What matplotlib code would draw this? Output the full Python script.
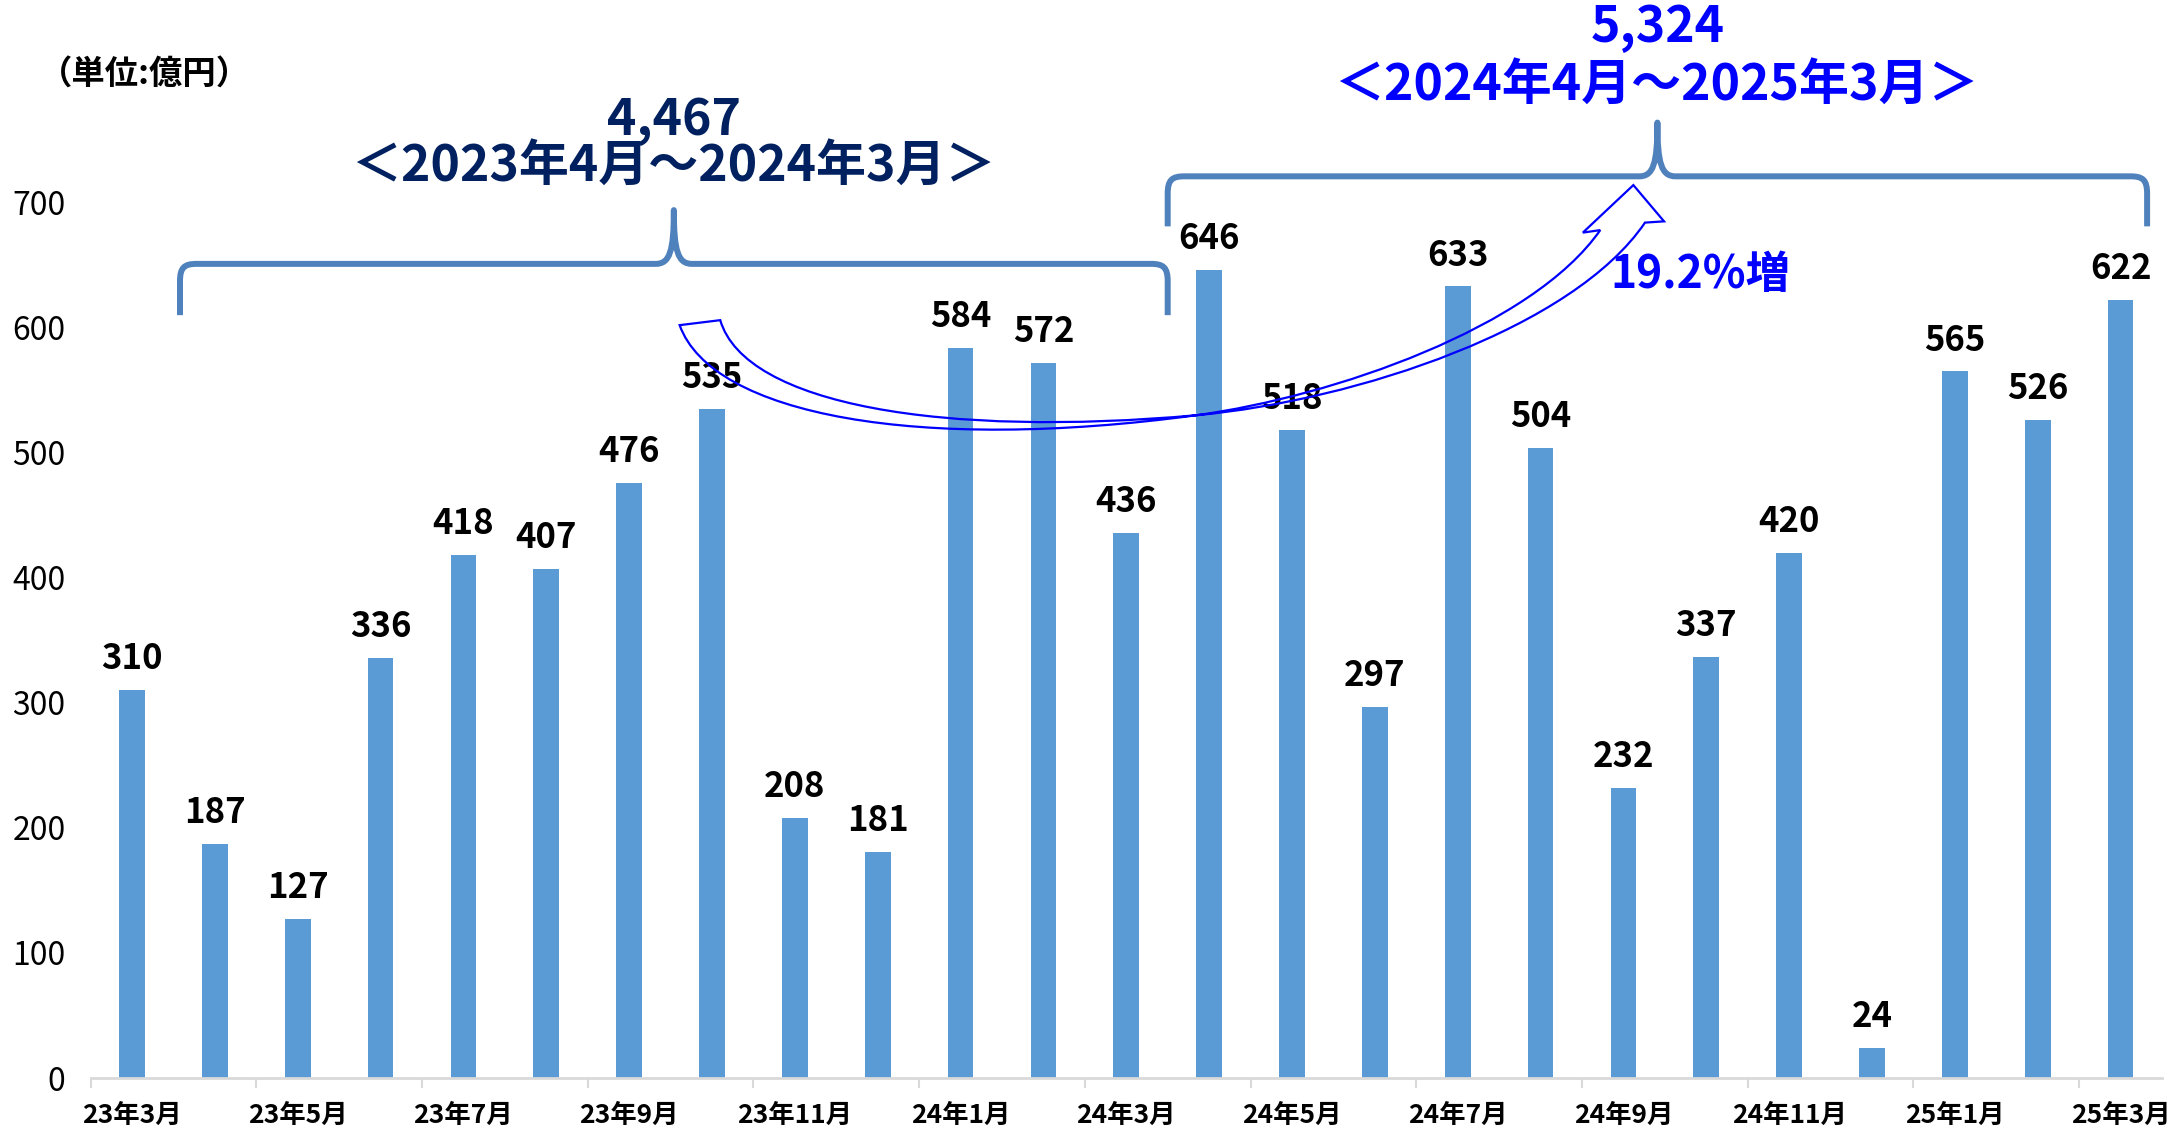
import matplotlib
matplotlib.use("Agg")
import matplotlib.pyplot as plt
from matplotlib.path import Path
from matplotlib.patches import PathPatch
import numpy as np

plt.rcParams['font.family'] = ['Noto Sans CJK JP', 'DejaVu Sans']

months = ['23年3月', '23年4月', '23年5月', '23年6月', '23年7月', '23年8月',
          '23年9月', '23年10月', '23年11月', '23年12月', '24年1月', '24年2月',
          '24年3月', '24年4月', '24年5月', '24年6月', '24年7月', '24年8月',
          '24年9月', '24年10月', '24年11月', '24年12月', '25年1月', '25年2月',
          '25年3月']
values = [310, 187, 127, 336, 418, 407, 476, 535, 208, 181, 584, 572, 436,
          646, 518, 297, 633, 504, 232, 337, 420, 24, 565, 526, 622]

prev_total = '4,467'
prev_period = '＜2023年4月～2024年3月＞'
curr_total = '5,324'
curr_period = '＜2024年4月～2025年3月＞'
growth = '19.2%増'
unit = '（単位:億円）'

bar_color = '#5B9BD5'
brace_color = '#4F81BD'
navy = '#002060'
blue = '#0000FF'

fig = plt.figure(figsize=(21.81, 11.30), dpi=100)
ax = fig.add_axes([0.0415, 0.046, 0.9498, 0.954])

x = np.arange(len(values))
ax.bar(x, values, width=0.31, color=bar_color, zorder=2)

for i, v in zip(x, values):
    ax.annotate(str(v), (i, v), xytext=(0, 15), textcoords='offset points',
                ha='center', va='baseline', fontsize=25, fontweight='bold',
                color='black', zorder=4)

ax.set_xlim(-0.5, len(values) - 0.5)
ax.set_ylim(0, 862)

ax.set_yticks(range(0, 701, 100))
ax.tick_params(axis='y', length=0, pad=18, labelsize=23)

# tick marks on the category boundaries, labels under every other month
ax.set_xticks(np.arange(-0.5, len(values) - 1, 2))
ax.set_xticklabels([])
ax.tick_params(axis='x', which='major', length=7, width=1.5, color='#d9d9d9')
ax.set_xticks(x[::2], minor=True)
ax.set_xticklabels(months[::2], minor=True, fontsize=19, fontweight='bold')
ax.tick_params(axis='x', which='minor', length=0, pad=17)

for s in ['top', 'right', 'left']:
    ax.spines[s].set_visible(False)
ax.spines['bottom'].set_color('#d9d9d9')
ax.spines['bottom'].set_linewidth(2)


def brace(xl, xr, yb, yh, yp):
    xm = (xl + xr) / 2
    r, c = 0.2, 0.22
    verts = [(xl, yb), (xl, yh - 14),
             (xl, yh - 3), (xl + 0.05, yh), (xl + r, yh),
             (xm - c, yh),
             (xm - 0.05, yh), (xm, yh + 10), (xm, yp),
             (xm, yh + 10), (xm + 0.05, yh), (xm + c, yh),
             (xr - r, yh),
             (xr - 0.05, yh), (xr, yh - 3), (xr, yh - 14),
             (xr, yb)]
    codes = [Path.MOVETO, Path.LINETO,
             Path.CURVE4, Path.CURVE4, Path.CURVE4,
             Path.LINETO,
             Path.CURVE4, Path.CURVE4, Path.CURVE4,
             Path.CURVE4, Path.CURVE4, Path.CURVE4,
             Path.LINETO,
             Path.CURVE4, Path.CURVE4, Path.CURVE4,
             Path.LINETO]
    ax.add_patch(PathPatch(Path(verts, codes), fill=False, lw=4.3,
                           ec=brace_color, capstyle='butt',
                           joinstyle='round', zorder=3))
    return xm


m1 = brace(0.58, 12.5, 610, 651, 694)
m2 = brace(12.5, 24.32, 681, 721, 764)

ax.text(m1, 766, prev_total, ha='center', va='center', fontsize=36,
        fontweight='bold', color=navy)
ax.text(m1, 729, prev_period, ha='center', va='center', fontsize=36,
        fontweight='bold', color=navy)
ax.text(m2, 840, curr_total, ha='center', va='center', fontsize=36,
        fontweight='bold', color=blue)
ax.text(m2, 794, curr_period, ha='center', va='center', fontsize=36,
        fontweight='bold', color=blue)
ax.text(18.93, 642, growth, ha='center', va='center', fontsize=32,
        fontweight='bold', color=blue)

# hollow curved arrow from the previous period to the current one
arrow_verts = [(6.61, 602),
               (7.0, 530), (9.5, 500), (12.85, 530),
               (14.5, 545), (16.9, 600), (17.72, 678),
               (17.51, 676), (18.12, 714), (18.49, 685), (18.26, 684),
               (17.4, 600), (14.8, 542), (12.85, 530),
               (9.8, 512), (7.4, 538), (7.10, 606),
               (6.61, 602)]
arrow_codes = [Path.MOVETO,
               Path.CURVE4, Path.CURVE4, Path.CURVE4,
               Path.CURVE4, Path.CURVE4, Path.CURVE4,
               Path.LINETO, Path.LINETO, Path.LINETO, Path.LINETO,
               Path.CURVE4, Path.CURVE4, Path.CURVE4,
               Path.CURVE4, Path.CURVE4, Path.CURVE4,
               Path.CLOSEPOLY]
ax.add_patch(PathPatch(Path(arrow_verts, arrow_codes), fill=False, lw=1.6,
                       ec=blue, joinstyle='miter', zorder=5))

fig.text(0.018, 0.934, unit, ha='left', va='center', fontsize=24,
         fontweight='bold')

fig.savefig('out.png', dpi=100)
